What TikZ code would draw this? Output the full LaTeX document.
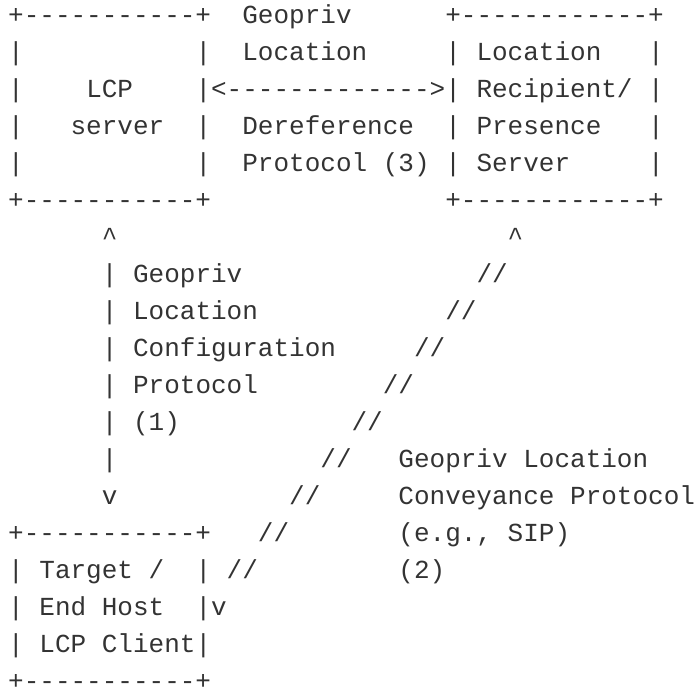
\documentclass[tikz,border=0pt]{standalone}
\usepackage{fontspec}
\setmonofont{Liberation Mono}
\usepackage{xcolor}
\definecolor{ink}{HTML}{333333}

% character cell: 15.61 px wide, rows 36.95 px apart (1 px = 0.75 pt)
\newcommand\asciiat[4]{%
  \node[txt] (#1) at ({8.2+15.61*#3},{-(24+36.95*#2)}) {#4};}

\tikzset{
  txt/.style={inner sep=0pt, outer sep=0pt, anchor=base west,
    text=ink, font=\fontsize{19.51pt}{19.51pt}\selectfont\ttfamily},
}

\begin{document}
\begin{tikzpicture}[x=0.75pt, y=0.75pt]
\useasboundingbox (0,0) rectangle (696,-691);

% LCP server box and dereference protocol
\asciiat{lcpT}{0}{0}{+-----------+}
\asciiat{derefA}{0}{15}{Geopriv}
\asciiat{lrT}{0}{28}{+------------+}

\asciiat{lcpL1}{1}{0}{|}
\asciiat{lcpR1}{1}{12}{|}
\asciiat{derefB}{1}{15}{Location}
\asciiat{lrL1}{1}{28}{|}
\asciiat{lrA}{1}{30}{Location}
\asciiat{lrR1}{1}{41}{|}

\asciiat{lcpL2}{2}{0}{|}
\asciiat{lcpA}{2}{5}{LCP}
\asciiat{deref}{2}{12}{|<------------->|}
\asciiat{lrB}{2}{30}{Recipient/}
\asciiat{lrR2}{2}{41}{|}

\asciiat{lcpL3}{3}{0}{|}
\asciiat{lcpB}{3}{4}{server}
\asciiat{lcpR3}{3}{12}{|}
\asciiat{derefC}{3}{15}{Dereference}
\asciiat{lrL3}{3}{28}{|}
\asciiat{lrC}{3}{30}{Presence}
\asciiat{lrR3}{3}{41}{|}

\asciiat{lcpL4}{4}{0}{|}
\asciiat{lcpR4}{4}{12}{|}
\asciiat{derefD}{4}{15}{Protocol (3)}
\asciiat{lrL4}{4}{28}{|}
\asciiat{lrD}{4}{30}{Server}
\asciiat{lrR4}{4}{41}{|}

\asciiat{lcpBot}{5}{0}{+-----------+}
\asciiat{lrBot}{5}{28}{+------------+}

% configuration protocol (1) and conveyance protocol (2)
\asciiat{cfgUp}{6}{6}{\textasciicircum}
\asciiat{convUp}{6}{32}{\textasciicircum}

\asciiat{cfg7}{7}{6}{|}
\asciiat{cfgA}{7}{8}{Geopriv}
\asciiat{conv7}{7}{30}{//}

\asciiat{cfg8}{8}{6}{|}
\asciiat{cfgB}{8}{8}{Location}
\asciiat{conv8}{8}{28}{//}

\asciiat{cfg9}{9}{6}{|}
\asciiat{cfgC}{9}{8}{Configuration}
\asciiat{conv9}{9}{26}{//}

\asciiat{cfg10}{10}{6}{|}
\asciiat{cfgD}{10}{8}{Protocol}
\asciiat{conv10}{10}{24}{//}

\asciiat{cfg11}{11}{6}{|}
\asciiat{cfgE}{11}{8}{(1)}
\asciiat{conv11}{11}{22}{//}

\asciiat{cfg12}{12}{6}{|}
\asciiat{conv12}{12}{20}{//}
\asciiat{convA}{12}{25}{Geopriv Location}

\asciiat{cfgDown}{13}{6}{v}
\asciiat{conv13}{13}{18}{//}
\asciiat{convB}{13}{25}{Conveyance Protocol}

% target / end host box
\asciiat{tgtT}{14}{0}{+-----------+}
\asciiat{conv14}{14}{16}{//}
\asciiat{convC}{14}{25}{(e.g., SIP)}

\asciiat{tgtL1}{15}{0}{|}
\asciiat{tgtA}{15}{2}{Target /}
\asciiat{tgtR1}{15}{12}{|}
\asciiat{conv15}{15}{14}{//}
\asciiat{convD}{15}{25}{(2)}

\asciiat{tgtL2}{16}{0}{|}
\asciiat{tgtB}{16}{2}{End Host}
\asciiat{tgtR2}{16}{12}{|v}

\asciiat{tgtL3}{17}{0}{|}
\asciiat{tgtC}{17}{2}{LCP Client|}

\asciiat{tgtBot}{18}{0}{+-----------+}
\end{tikzpicture}
\end{document}
